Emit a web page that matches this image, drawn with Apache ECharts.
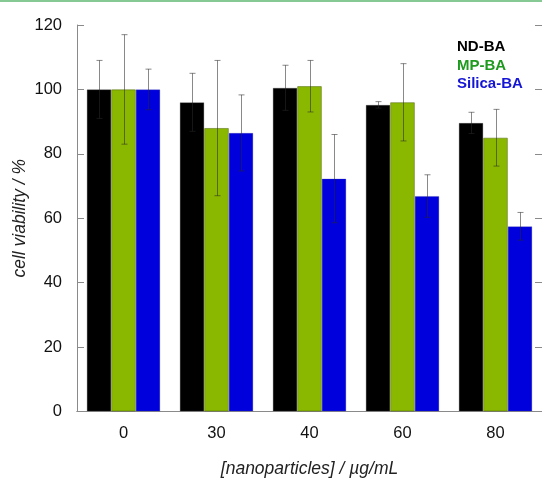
<!DOCTYPE html>
<html>
<head>
<meta charset="utf-8">
<script src="https://cdn.jsdelivr.net/npm/echarts@6/dist/echarts.min.js"></script>
<style>
  html, body { margin: 0; padding: 0; background: #fff; }
  #chart { width: 542px; height: 478px; }
</style>
</head>
<body>
<div id="chart"></div>
<script>
// 数据
const categories = ['0', '30', '40', '60', '80'];
const seriesNames = ['ND-BA', 'MP-BA', 'Silica-BA'];
const ndValues = [100, 96, 100.5, 95.2, 89.6];
const mpValues = [100, 88, 101, 96, 85];
const silicaValues = [100, 86.5, 72.3, 66.9, 57.5];
const ndErrors = [9, 9, 7, 1, 3.3];
const mpErrors = [17, 21, 8, 12, 8.8];
const silicaErrors = [6.3, 11.8, 13.7, 6.6, 4.3];
const yTicks = [0, 20, 40, 60, 80, 100, 120];

const barColors = ['#000000', '#8ab800', '#0000dd'];
const barBorders = ['rgba(60,60,60,0.35)', 'rgba(70,90,0,0.6)', 'rgba(60,60,160,0.35)'];
const legendColors = ['#000000', '#1e9a1e', '#1515d5'];
const CAT_GAP = 0.21;

// 误差线 (custom series)
function errorSeries(values, errors, index) {
    return {
        type: 'custom',
        z: 10,
        silent: true,
        data: values.map((v, i) => [i, v - errors[i], v + errors[i]]),
        renderItem: function(params, api) {
            const catWidth = api.size([1, 0])[0];
            const barWidth = catWidth * (1 - CAT_GAP) / 3;
            const offset = (index - 1) * barWidth;
            const low = api.coord([api.value(0), api.value(1)]);
            const high = api.coord([api.value(0), api.value(2)]);
            const x = Math.round(low[0] + offset) + 0.5;
            const cap = 3;
            const style = { stroke: 'rgba(40,40,40,0.55)', lineWidth: 1 };
            return {
                type: 'group',
                children: [
                    { type: 'line', shape: { x1: x, y1: high[1], x2: x, y2: low[1] }, style: style },
                    { type: 'line', shape: { x1: x - cap, y1: high[1], x2: x + cap, y2: high[1] }, style: style },
                    { type: 'line', shape: { x1: x - cap, y1: low[1], x2: x + cap, y2: low[1] }, style: style }
                ]
            };
        }
    };
}

function barSeries(name, values, index) {
    return {
        name: name,
        type: 'bar',
        data: values,
        barGap: '0%',
        barCategoryGap: (CAT_GAP * 100) + '%',
        itemStyle: {
            color: barColors[index],
            borderColor: barBorders[index],
            borderWidth: 0.8
        }
    };
}

const chart = echarts.init(document.getElementById('chart'));

const axisLineStyle = { color: '#8a8a8a', width: 1 };

const option = {
    animation: false,
    textStyle: { fontFamily: 'Liberation Sans, Arial, sans-serif' },
    grid: { left: 77, right: 0, top: 25, bottom: 66.5, outerBoundsMode: 'none', containLabel: false },
    graphic: [
        { type: 'rect', shape: { x: 0, y: 0, width: 542, height: 2 }, style: { fill: '#86c994' } }
    ],
    legend: {
        orient: 'vertical',
        left: 452,
        top: 39.5,
        icon: 'none',
        itemWidth: 0,
        itemHeight: 15,
        itemGap: 3.5,
        padding: 0,
        selectedMode: false,
        textStyle: { fontSize: 15, fontWeight: 'bold', padding: 0 },
        data: seriesNames.map((n, i) => ({ name: n, textStyle: { color: legendColors[i] } }))
    },
    xAxis: [
        {
            type: 'category',
            data: categories,
            position: 'bottom',
            name: '[nanoparticles] / µg/mL',
            nameLocation: 'middle',
            nameGap: 49,
            nameMoveOverlap: false,
            nameTextStyle: { fontSize: 17.5, fontStyle: 'italic', color: '#222' },
            axisLine: { lineStyle: axisLineStyle },
            axisTick: { inside: true, length: 7, lineStyle: axisLineStyle },
            axisLabel: { fontSize: 16.5, color: '#111', margin: 13 }
        },
        {
            type: 'category',
            data: categories,
            position: 'top',
            axisLine: { lineStyle: axisLineStyle },
            axisTick: { inside: true, length: 7, lineStyle: axisLineStyle },
            axisLabel: { show: false }
        }
    ],
    yAxis: [
        {
            type: 'value',
            min: yTicks[0],
            max: yTicks[yTicks.length - 1],
            interval: 20,
            name: 'cell viability / %',
            nameLocation: 'middle',
            nameGap: 48,
            nameMoveOverlap: false,
            nameTextStyle: { fontSize: 17.5, fontStyle: 'italic', color: '#222' },
            axisLine: { show: true, lineStyle: axisLineStyle },
            axisTick: { show: true, inside: true, length: 7, lineStyle: axisLineStyle },
            axisLabel: { fontSize: 16.5, color: '#111', margin: 15 },
            splitLine: { show: false }
        },
        {
            type: 'value',
            position: 'right',
            min: yTicks[0],
            max: yTicks[yTicks.length - 1],
            interval: 20,
            axisLine: { show: true, lineStyle: axisLineStyle },
            axisTick: { show: true, inside: true, length: 7, lineStyle: axisLineStyle },
            axisLabel: { show: false },
            splitLine: { show: false }
        }
    ],
    series: [
        barSeries(seriesNames[0], ndValues, 0),
        barSeries(seriesNames[1], mpValues, 1),
        barSeries(seriesNames[2], silicaValues, 2),
        errorSeries(ndValues, ndErrors, 0),
        errorSeries(mpValues, mpErrors, 1),
        errorSeries(silicaValues, silicaErrors, 2)
    ]
};

chart.setOption(option);
</script>
</body>
</html>
